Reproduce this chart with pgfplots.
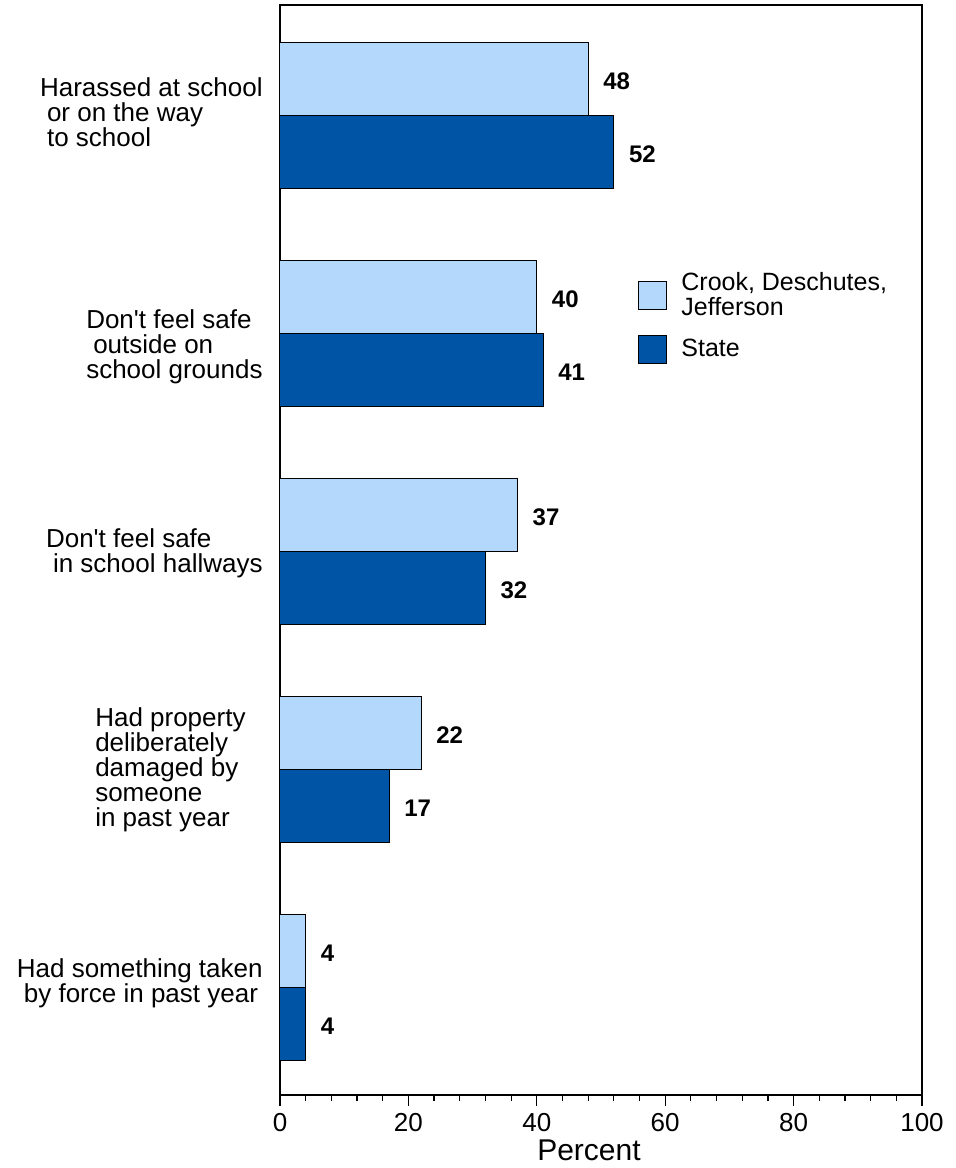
\documentclass[border=0pt]{standalone}
\usepackage{pgfplots}
\pgfplotsset{compat=1.18}
\usepackage{fontspec}
\setmainfont{Liberation Sans}
\definecolor{lightb}{RGB}{180,216,252}
\definecolor{darkb}{RGB}{0,84,166}
\newcommand{\catfont}{\fontsize{13}{12.5}\selectfont}
\begin{document}
\begin{tikzpicture}
\begin{axis}[
  name=ax, scale only axis, width=321pt, height=545pt,
  xbar, xmin=0, xmax=100, ymin=-0.495, ymax=4.505,
  bar width=36.5pt,
  xtick={0,20,...,100}, minor x tick num=4,
  ytick=\empty,
  tick align=outside, xtick pos=bottom,
  major tick length=5.5pt, minor tick length=3pt,
  axis line style={line width=0.75pt},
  every tick/.style={black, line width=0.6pt},
  ticklabel style={font=\fontsize{13}{15}\selectfont},
  /pgf/number format/assume math mode=true,
  xlabel={Percent}, xlabel style={font=\fontsize{15}{17}\selectfont, yshift=2.5pt, xshift=-6pt},
  point meta=x,
  nodes near coords,
  every node near coord/.append style={font=\bfseries\fontsize{12}{14}\selectfont, anchor=west, xshift=4pt, yshift=-1.5pt, black},
  clip=false,
  area legend,
  legend image code/.code={\draw[#1] (0pt,-7pt) rectangle (14pt,7pt); \path (19pt,0pt);},
  legend style={draw=none, fill=none, at={(rel axis cs:0.5576,0.7587)}, anchor=north west,
    inner sep=0pt, row sep=6pt, font=\fontsize{12.5}{12.5}\selectfont,
    cells={anchor=west, align=left}},
]
\addplot[fill=lightb, draw=black, line width=0.5pt, bar shift=18.25pt] coordinates {(48,4) (40,3) (37,2) (22,1) (4,0)};
\addlegendentry{Crook, Deschutes,\\Jefferson}
\addplot[fill=darkb, draw=black, line width=0.5pt, bar shift=-18.25pt] coordinates {(52,4) (41,3) (32,2) (17,1) (4,0)};
\addlegendentry{State}

\node[anchor=east, align=left, inner sep=0pt, font=\catfont, xshift=-8.5pt, yshift=1.5pt] at (axis cs:0,4)
  {Harassed at school\\\hspace*{3.5pt}or on the way\\\hspace*{3.5pt}to school};
\node[anchor=east, align=left, inner sep=0pt, font=\catfont, xshift=-8.5pt, yshift=-7pt] at (axis cs:0,3)
  {Don\textquotesingle t feel safe\\\hspace*{3.5pt}outside on\\school grounds};
\node[anchor=east, align=left, inner sep=0pt, font=\catfont, xshift=-8.5pt, yshift=-1pt] at (axis cs:0,2)
  {Don\textquotesingle t feel safe\\\hspace*{3.5pt}in school hallways};
\node[anchor=east, align=left, inner sep=0pt, font=\catfont, xshift=-17pt, yshift=-0.5pt] at (axis cs:0,1)
  {Had property\\deliberately\\damaged by\\someone\\in past year};
\node[anchor=east, align=left, inner sep=0pt, font=\catfont, xshift=-8.5pt, yshift=2pt] at (axis cs:0,0)
  {Had something taken\\\hspace*{3.5pt}by force in past year};
\end{axis}
\path ([shift={(-140pt,-36.5pt)}]ax.south west) rectangle ++(477.5pt,584pt);
\end{tikzpicture}
\end{document}
